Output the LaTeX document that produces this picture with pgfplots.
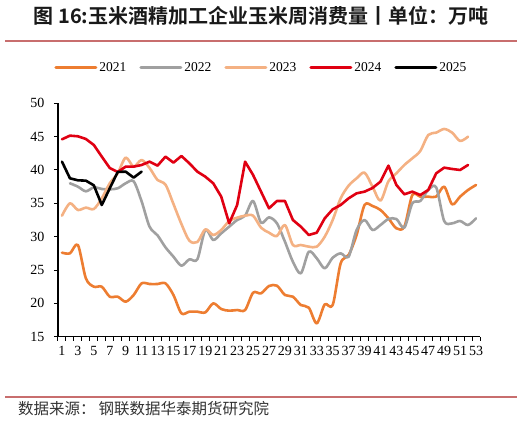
\documentclass[border=0pt]{standalone}
\usepackage{pgfplots}
\pgfplotsset{compat=1.18}
\usepackage{fontspec}
\setmainfont{Liberation Serif}
\newfontfamily\cjk{Noto Sans CJK SC}[BoldFont={Noto Sans CJK SC Bold}]
\definecolor{c21}{RGB}{237,125,49}
\definecolor{c22}{RGB}{160,160,160}
\definecolor{c23}{RGB}{244,177,131}
\definecolor{c24}{RGB}{224,0,18}
\definecolor{rulec}{RGB}{200,110,110}
\begin{document}
\begin{tikzpicture}
\useasboundingbox (0bp,0bp) rectangle (522bp,423bp);
\node[font=\cjk\bfseries\fontsize{20bp}{24bp}\selectfont, text=black!90, anchor=center, inner sep=0] at (261bp,407bp) {图 16:玉米酒精加工企业玉米周消费量丨单位：万吨};
\draw[rulec, line width=1.5bp] (5bp,382bp) -- (517bp,382bp);
\draw[rulec, line width=1.5bp] (5bp,26bp) -- (517bp,26bp);
\node[anchor=west, font=\cjk\fontsize{15.5bp}{18bp}\selectfont, text=black!80, inner sep=0] at (18bp,14bp) {数据来源：\hspace{3bp}钢联数据华泰期货研究院};
\begin{axis}[
  at={(58bp,86.3bp)}, anchor=south west,
  scale only axis, width=422bp, height=233.4bp,
  xmin=0.5, xmax=53.5, ymin=15, ymax=50,
  axis lines*=left,
  axis line style={line width=1.2bp, black},
  xtick={1,3,...,53},
  minor xtick={0.5,1.5,...,53.5},
  ytick={15,20,...,50},
  tick align=outside,
  major tick length=4bp, minor tick length=4bp,
  major x tick style={draw=none},
  minor x tick style={black, line width=1bp},
  ytick style={black, line width=1bp},
  ticklabel style={font=\fontsize{14bp}{16bp}\selectfont},
  yticklabel style={xshift=-6bp},
  xticklabel style={yshift=-2bp},
  /pgf/number format/assume math mode=true,
  legend style={draw=none, fill=none, at={(0.482,1.152)}, anchor=center,
    legend columns=5, font=\fontsize{13.5bp}{15bp}\selectfont,
    /tikz/every even column/.append style={column sep=11bp}},
  legend image code/.code={\draw[#1, line width=3bp] (0bp,0bp) -- (40bp,0bp);},
  every axis plot/.append style={line width=2.6bp, line join=round, line cap=round},
]
\addplot[c21, smooth, tension=0.5] coordinates {
(1,27.6)(2,27.5)(3,28.75)(4,23.75)(5,22.5)(6,22.5)(7,21)(8,21)(9,20.25)(10,21.25)
(11,23)(12,22.9)(13,22.9)(14,23)(15,21.25)(16,18.5)(17,18.75)(18,18.75)(19,18.65)(20,20)
(21,19.15)(22,18.9)(23,19)(24,19)(25,21.6)(26,21.5)(27,22.6)(28,22.65)(29,21.25)(30,21)
(31,19.75)(32,19.35)(33,17)(34,19.85)(35,19.75)(36,26)(37,27.25)(38,30.25)(39,34.75)(40,34.6)
(41,34)(42,32.75)(43,31.25)(44,31.5)(45,36.25)(46,36)(47,36)(48,36)(49,37.5)(50,34.85)
(51,36)(52,37)(53,37.75)};
\addlegendentry{2021}
\addplot[c22, smooth, tension=0.5] coordinates {
(2,38)(3,37.5)(4,36.8)(5,37.4)(6,37.15)(7,37.1)(8,37.25)(9,38)(10,38.3)
(11,35.3)(12,31.5)(13,30.2)(14,28.4)(15,27)(16,25.65)(17,26.6)(18,26.6)(19,31)(20,29.5)
(21,30.5)(22,31.5)(23,32.5)(24,33.15)(25,35.35)(26,32.1)(27,32.9)(28,32)(29,29.25)(30,26.25)
(31,24.5)(32,27.75)(33,26.75)(34,25.25)(35,26.85)(36,27.5)(37,27)(38,31)(39,32.5)(40,31)
(41,31.75)(42,32.65)(43,32.65)(44,31.35)(45,35)(46,35.35)(47,37)(48,37.4)(49,32.35)(50,32)
(51,32.35)(52,31.75)(53,32.75)};
\addlegendentry{2022}
\addplot[c23, smooth, tension=0.5] coordinates {
(1,33.15)(2,35)(3,34)(4,34.35)(5,34.15)(6,35.75)(7,38)(8,39.5)(9,41.85)(10,40.5)
(11,41.5)(12,40.3)(13,38.5)(14,37.8)(15,34.9)(16,31.9)(17,29.4)(18,29.2)(19,31.1)(20,30.25)
(21,31)(22,32.35)(23,32.85)(24,33.15)(25,33.15)(26,31.35)(27,30.6)(28,30.1)(29,31.75)(30,28.75)
(31,28.75)(32,28.5)(33,28.5)(34,30)(35,32.5)(36,35.75)(37,37.65)(38,38.75)(39,39.6)(40,37.5)
(41,35.4)(42,38.3)(43,39.5)(44,40.75)(45,41.75)(46,42.85)(47,45.25)(48,45.6)(49,46.15)(50,45.6)
(51,44.35)(52,45)};
\addlegendentry{2023}
\addplot[c24] coordinates {
(1,44.6)(2,45.15)(3,45.05)(4,44.65)(5,43.75)(6,42)(7,40.3)(8,39.7)(9,40.5)(10,40.5)
(11,40.75)(12,41.25)(13,40.65)(14,42)(15,41.1)(16,42.1)(17,41)(18,39.75)(19,39)(20,38)
(21,36)(22,32)(23,34.75)(24,41.25)(25,39.25)(26,36.75)(27,34.25)(28,35.35)(29,35.35)(30,32.5)
(31,31.5)(32,30.25)(33,30.6)(34,32.75)(35,34.1)(36,34.75)(37,35.75)(38,36.5)(39,36.75)(40,37.3)
(41,38.25)(42,40.65)(43,37.75)(44,36.35)(45,36.75)(46,36.25)(47,37)(48,39.5)(49,40.35)(50,40.15)
(51,40)(52,40.75)};
\addlegendentry{2024}
\addplot[black] coordinates {
(1,41.25)(2,38.75)(3,38.45)(4,38.4)(5,37.7)(6,34.75)(7,37.25)(8,39.7)(9,39.75)(10,38.85)(11,39.75)};
\addlegendentry{2025}
\end{axis}
\end{tikzpicture}
\end{document}
